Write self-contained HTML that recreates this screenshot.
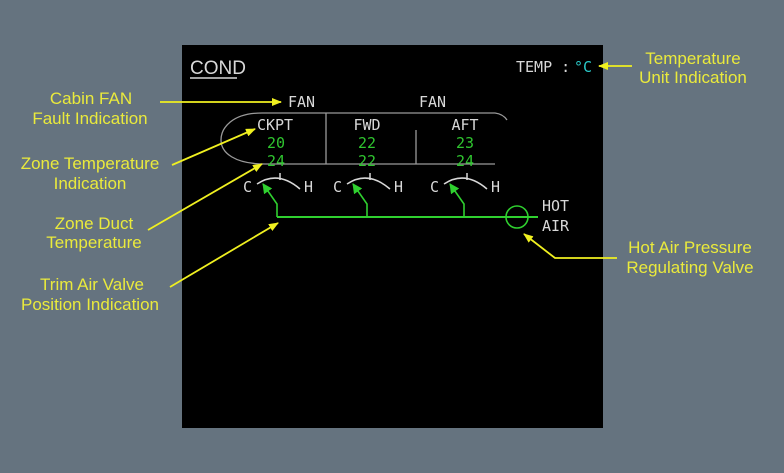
<!DOCTYPE html>
<html><head><meta charset="utf-8"><style>
html,body{margin:0;padding:0;background:#65737f;}
svg{display:block;}
.y{font-family:"Liberation Sans",sans-serif;font-size:17px;fill:#eaea3c;text-anchor:middle;}
.w{font-family:"DejaVu Sans Mono","Liberation Mono",monospace;font-size:15px;fill:#d8d8d8;}
.g{font-family:"DejaVu Sans Mono","Liberation Mono",monospace;font-size:15px;fill:#2fc52f;text-anchor:middle;}
</style></head><body>
<svg width="784" height="473" viewBox="0 0 784 473" xmlns="http://www.w3.org/2000/svg">
<defs>
<marker id="ay" markerWidth="10" markerHeight="8" refX="9" refY="4" orient="auto" markerUnits="userSpaceOnUse"><path d="M0,0 L10,4 L0,8 Z" fill="#f0f020"/></marker>
<marker id="ag" markerWidth="10" markerHeight="10" refX="9" refY="5" orient="auto" markerUnits="userSpaceOnUse"><path d="M0,0 L10,5 L0,10 Z" fill="#2fd02f"/></marker>
</defs>
<rect x="182" y="45" width="421" height="383" fill="#000"/>
<text x="190" y="74" class="w" style="font-family:'Liberation Sans',sans-serif;font-size:19px">COND</text>
<line x1="190" y1="78" x2="237" y2="78" stroke="#d8d8d8" stroke-width="1.5"/>
<text x="516" y="72" class="w">TEMP :</text><text x="574" y="72" class="w" style="fill:#2ac8c8">°C</text>
<text x="288" y="107" class="w">FAN</text><text x="419" y="107" class="w">FAN</text>
<g fill="none" stroke="#9a9a9a" stroke-width="1.3">
<path d="M262,113 L495,113 Q503,114 507,120"/>
<path d="M262,113 C232,113 221,128 221,140 C221,153 235,164 265,164 L495,164"/>
<line x1="326" y1="113" x2="326" y2="164"/>
<line x1="416" y1="130" x2="416" y2="164"/>
</g>
<text x="275" y="130" class="w" style="text-anchor:middle">CKPT</text>
<text x="367" y="130" class="w" style="text-anchor:middle">FWD</text>
<text x="465" y="130" class="w" style="text-anchor:middle">AFT</text>
<text x="276" y="148" class="g">20</text><text x="367" y="148" class="g">22</text><text x="465" y="148" class="g">23</text>
<text x="276" y="166" class="g">24</text><text x="367" y="166" class="g">22</text><text x="465" y="166" class="g">24</text>
<g id="gg">
<path d="M257,184 Q278,170 300,189" fill="none" stroke="#d8d8d8" stroke-width="1.5"/>
<line x1="280" y1="173" x2="280" y2="180" stroke="#d8d8d8" stroke-width="1.5"/>
<text x="243" y="192" class="w">C</text><text x="304" y="192" class="w">H</text>
<path d="M277,217 L277,204 L263,184" fill="none" stroke="#2fd02f" stroke-width="1.6" marker-end="url(#ag)"/>
</g>
<use href="#gg" transform="translate(90,0)"/>
<use href="#gg" transform="translate(187,0)"/>
<line x1="277" y1="217" x2="538" y2="217" stroke="#2fd02f" stroke-width="2"/>
<circle cx="517" cy="217" r="11" fill="none" stroke="#2fd02f" stroke-width="1.6"/>
<text x="542" y="211" class="w">HOT</text><text x="542" y="231" class="w">AIR</text>
<g stroke="#f0f020" stroke-width="1.8" fill="none">
<line x1="160" y1="102" x2="281" y2="102" marker-end="url(#ay)"/>
<line x1="172" y1="165" x2="255" y2="129" marker-end="url(#ay)"/>
<line x1="148" y1="230" x2="262" y2="164" marker-end="url(#ay)"/>
<line x1="170" y1="287" x2="278" y2="223" marker-end="url(#ay)"/>
<line x1="632" y1="66" x2="599" y2="66" marker-end="url(#ay)"/>
<polyline points="617,258 555,258 524,234" marker-end="url(#ay)"/>
</g>
<text x="91" y="104" class="y">Cabin FAN</text><text x="90" y="124" class="y">Fault Indication</text>
<text x="90" y="169" class="y">Zone Temperature</text><text x="90" y="189" class="y">Indication</text>
<text x="94" y="229" class="y">Zone Duct</text><text x="94" y="248" class="y">Temperature</text>
<text x="92" y="290" class="y">Trim Air Valve</text><text x="90" y="310" class="y">Position Indication</text>
<text x="693" y="64" class="y">Temperature</text><text x="693" y="83" class="y">Unit Indication</text>
<text x="690" y="253" class="y">Hot Air Pressure</text><text x="690" y="273" class="y">Regulating Valve</text>
</svg>
</body></html>
